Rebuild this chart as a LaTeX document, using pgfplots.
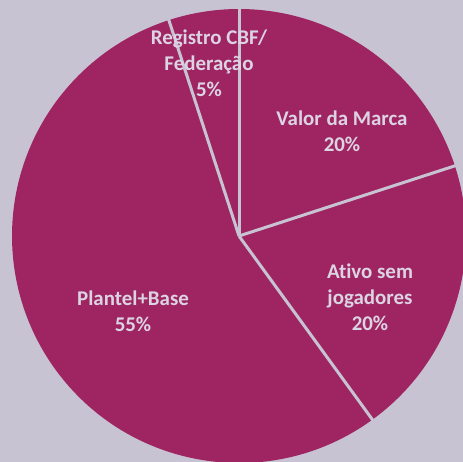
\documentclass[border=0pt]{standalone}
\usepackage{pgfplots}
\pgfplotsset{compat=1.18}
\usepackage{fontspec}
\setmainfont{Carlito}[Ligatures=NoCommon,RawFeature={-calt}]
\definecolor{bg}{RGB}{200,195,211}
\definecolor{pie}{RGB}{158,37,97}
\definecolor{lbl}{RGB}{220,211,228}
% slice values (percent), clockwise from the top
\def\vA{20}% Valor da Marca
\def\vB{20}% Ativo sem jogadores
\def\vC{55}% Plantel+Base
\def\vD{5}%  Registro CBF/Federacao
\pgfmathsetmacro{\aA}{90}
\pgfmathsetmacro{\aB}{\aA-3.6*\vA}
\pgfmathsetmacro{\aC}{\aB-3.6*\vB}
\pgfmathsetmacro{\aD}{\aC-3.6*\vC}
\pgfmathsetmacro{\aE}{\aD-3.6*\vD}
\begin{document}
\begin{tikzpicture}
\begin{axis}[width=463bp,height=462bp,scale only axis,hide axis,
  xmin=0,xmax=463,ymin=0,ymax=462,clip=true]
\addplot[draw=none,fill=bg] coordinates {(0,0) (463,0) (463,462) (0,462)} -- cycle;
\fill[pie] (axis cs:239,226) -- ++(\aA:227bp) arc[start angle=\aA,end angle=\aB,radius=227bp] -- cycle;
\fill[pie] (axis cs:239,226) -- ++(\aB:227bp) arc[start angle=\aB,end angle=\aC,radius=227bp] -- cycle;
\fill[pie] (axis cs:239,226) -- ++(\aC:227bp) arc[start angle=\aC,end angle=\aD,radius=227bp] -- cycle;
\fill[pie] (axis cs:239,226) -- ++(\aD:227bp) arc[start angle=\aD,end angle=\aE,radius=227bp] -- cycle;
\draw[bg,line width=3bp] (axis cs:239,226) -- ++(\aA:228bp);
\draw[bg,line width=3bp] (axis cs:239,226) -- ++(\aB:228bp);
\draw[bg,line width=3bp] (axis cs:239,226) -- ++(\aC:228bp);
\draw[bg,line width=3bp] (axis cs:239,226) -- ++(\aD:228bp);
\tikzset{lab/.style={text=lbl,align=center,font=\bfseries\fontsize{21}{26}\selectfont,inner sep=0pt}}
\node[lab] at (axis cs:209,399) {Registro CBF/\\Federação\\5\%};
\node[lab] at (axis cs:342,330.5) {Valor da Marca\\20\%};
\node[lab] at (axis cs:370,165) {At\kern0pt ivo sem\\jogadores\\20\%};
\node[lab] at (axis cs:133,151) {Plantel+Base\\55\%};
\end{axis}
\pgfresetboundingbox
\useasboundingbox (0,0) rectangle (463bp,462bp);
\end{tikzpicture}
\end{document}
